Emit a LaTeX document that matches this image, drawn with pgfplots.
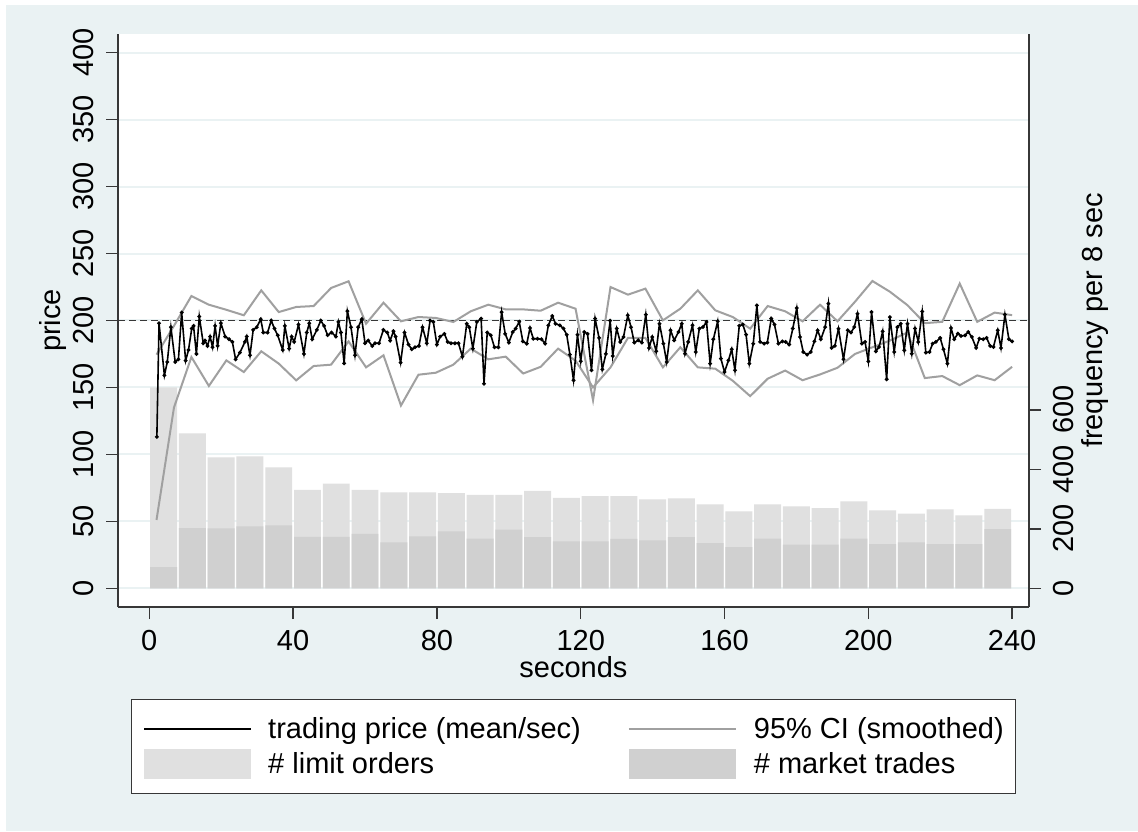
\documentclass[border=0pt]{standalone}
\usepackage{fontspec}
\setmainfont{Liberation Sans}
\usepackage{pgfplots}
\pgfplotsset{compat=1.18}
\definecolor{bgblue}{RGB}{234,242,243}
\definecolor{gridc}{RGB}{234,242,243}
\definecolor{limitc}{RGB}{224,224,224}
\definecolor{marketc}{RGB}{208,208,208}
\definecolor{cic}{RGB}{160,160,160}
\definecolor{axc}{RGB}{55,55,55}
\newcommand{\bigf}{\fontsize{29}{34}\selectfont}
\pgfplotsset{
  base/.style={
    scale only axis, width=911pt, height=573pt,
    at={(118pt,224pt)}, anchor=south west,
    xmin=-8.71, xmax=244.70,
    /pgf/number format/assume math mode=true,
    tick label style={font=\bigf},
    label style={font=\bigf},
    tick align=outside, major tick length=12pt,
    tick style={axc, line width=1.5pt},
    axis line style={axc, line width=1.5pt},
  }
}
\begin{document}
\begin{tikzpicture}
\fill[white] (0,0) rectangle (1138pt,831pt);
\fill[bgblue] (6pt,0) rectangle (1138pt,826pt);
\path[use as bounding box] (0,0) rectangle (1138pt,831pt);

% axis 0: frame, grid, left axis, x axis
\begin{axis}[base,
  ymin=-14, ymax=414,
  axis x line*=bottom, axis y line*=left,
  axis background/.style={fill=white},
  ytick={0,50,...,400}, xtick={0,40,...,240},
  ymajorgrids, major grid style={gridc, line width=2pt},
  yticklabel style={xshift=-12pt, rotate=90, anchor=south, inner sep=0pt},
  xticklabel style={yshift=-11pt, anchor=north, inner sep=0pt},
  xlabel={seconds}, ylabel={price},
  xlabel style={at={(axis description cs:0.5,-0.1047)}, anchor=center},
  ylabel style={at={(axis description cs:-0.0714,0.5)}, anchor=center},
]
\addplot[draw=none, forget plot] coordinates {(0,0)};
\end{axis}

% axis 1: bars, right axis
\begin{axis}[base,
  ymin=-63, ymax=1863,
  axis x line=none, axis y line*=right,
  ytick={0,200,400,600},
  yticklabel style={xshift=12pt, rotate=90, anchor=north, inner sep=0pt},
  ylabel={frequency per 8 sec},
  ylabel style={at={(axis description cs:1.0725,0.5)}, anchor=center},
  bar width=7.5,
]
\addplot[ybar, bar shift=0pt, fill=limitc, draw=none] table {
x y
4 675
12 521
20 440
28 443
36 406
44 331
52 352
60 331
68 322
76 322
84 320
92 314
100 314
108 327
116 304
124 310
132 310
140 299
148 302
156 282
164 258
172 282
180 275
188 269
196 292
204 262
212 251
220 265
228 245
236 267
};
\addplot[ybar, bar shift=0pt, fill=marketc, draw=none] table {
x y
4 71
12 202
20 201
28 208
36 211
44 173
52 173
60 183
68 154
76 174
84 191
92 167
100 197
108 172
116 158
124 158
132 166
140 161
148 172
156 152
164 138
172 167
180 147
188 147
196 167
204 148
212 154
220 148
228 148
236 199
};
\end{axis}

% axis 2: lines and legend
\begin{axis}[base,
  ymin=-14, ymax=414,
  axis lines=none,
  legend columns=2,
  legend cell align=left,
  legend style={at={(0.5,-0.1606)}, anchor=north, draw=axc, line width=1pt,
    fill=white, inner xsep=12pt, inner ysep=12pt, font=\bigf,
    column sep=0pt, row sep=0pt, nodes={inner sep=0pt}},
]
\addlegendimage{legend image code/.code={
  \path[draw=none, fill=none] (0pt,-17.5pt) rectangle (124pt,17.5pt);
  \draw[black, line width=2pt] (0pt,0pt) -- (107pt,0pt);}}
\addlegendentry{trading price (mean/sec)}
\addlegendimage{legend image code/.code={
  \path[draw=none, fill=none] (0pt,-17.5pt) rectangle (173pt,17.5pt);
  \draw[cic, line width=2pt] (48pt,0pt) -- (155pt,0pt);}}
\addlegendentry{95\% CI (smoothed)}
\addlegendimage{legend image code/.code={
  \path[draw=none, fill=none] (0pt,-17.5pt) rectangle (124pt,17.5pt);
  \path[draw=none, fill=limitc] (0pt,-15pt) rectangle (107pt,15pt);}}
\addlegendentry{\# limit orders}
\addlegendimage{legend image code/.code={
  \path[draw=none, fill=none] (0pt,-17.5pt) rectangle (173pt,17.5pt);
  \path[draw=none, fill=marketc] (48pt,-15pt) rectangle (155pt,15pt);}}
\addlegendentry{\# market trades}

\addplot[forget plot, axc, line width=1.2pt, dash pattern=on 7pt off 4pt] coordinates {(-8.71,200) (244.70,200)};

\addplot[forget plot, cic, line width=2pt] table {
x y
2.00 174.5
6.86 196
11.71 218.3
16.57 211.8
21.43 208
26.29 203.9
31.14 222.5
36.00 206.3
40.86 210.1
45.71 210.8
50.57 224.3
55.43 229.3
60.29 197.6
65.14 213.3
70.00 199.4
74.86 202.6
79.71 201.9
84.57 198.9
89.43 206.9
94.29 211.8
99.14 208.3
104.00 208.3
108.86 207.3
113.71 213.3
118.57 208.8
123.43 140.4
128.29 225
133.14 219.3
138.00 223.8
142.86 200.1
147.71 208.8
152.57 222.5
157.43 207.6
162.29 202.6
167.14 193.9
172.00 210.8
176.86 206.9
181.71 199.4
186.57 211.8
191.43 199.4
196.29 214
201.14 229.5
206.00 221.5
210.86 211.5
215.71 198
220.57 199
225.43 227.6
230.29 199
235.14 205.9
240.00 204
};
\addplot[forget plot, cic, line width=2pt] table {
x y
2.00 51
6.86 135
11.71 172.7
16.57 151.1
21.43 170.2
26.29 161.5
31.14 177
36.00 167.8
40.86 155.3
45.71 166
50.57 167
55.43 184.4
60.29 165
65.14 174
70.00 136.5
74.86 159.5
79.71 161
84.57 167
89.43 179
94.29 171
99.14 173
104.00 160.4
108.86 165.4
113.71 179
118.57 170
123.43 150
128.29 165
133.14 187
138.00 187
142.86 165
147.71 180
152.57 165
157.43 164
162.29 155
167.14 143.5
172.00 156.5
176.86 162.6
181.71 155.4
186.57 159.7
191.43 164.7
196.29 175
201.14 180
206.00 185
210.86 191
215.71 157
220.57 158.5
225.43 151.7
230.29 159
235.14 155.4
240.00 165.4
};

\addplot[forget plot, black, line width=1.6pt, mark=*, mark size=1pt] table {
x y
2.1 113
2.7 198
4.2 159
5.0 169
6.0 195
7.2 169
8.1 171
9.0 206
10.1 170
10.9 178
11.8 194
12.3 196
13.1 175
13.9 203
15.0 183
15.5 185
16.2 181
16.9 188
17.6 180
18.3 196
19.0 181
19.9 198
21.1 188
22.2 186
23.1 184
24.0 171
25.2 176
26.6 184
27.1 188
28.0 174
28.9 193
29.9 195
31.0 201
31.7 191
32.9 191
33.9 200
34.8 194
35.7 189
37.1 178
37.7 196
38.9 179
39.6 188
40.3 184
41.5 197
43.0 175
43.8 191
44.5 198
45.3 186
46.6 193
47.7 200
48.6 196
49.6 189
50.7 191
51.9 188
52.6 199
53.3 191
54.2 168
55.1 207
56.1 195
57.2 174
58.1 195
59.1 201
60.0 183
60.9 185
62.0 181
62.8 183
63.9 183
65.1 193
66.2 191
67.0 185
67.9 192
68.5 188
69.9 168.5
71.0 191
72.1 182
73.0 178.5
73.9 180
75.0 181
76.0 195
77.2 183
78.1 200
79.0 199
80.0 182
80.9 188
82.1 190
83.0 184
83.9 183
85.0 183
86.0 183
87.1 173
88.3 197.6
89.0 195
90.0 179
91.1 199
92.3 201.4
93.1 152.8
94.0 191
95.0 189
96.0 180
97.1 180
98.0 206.3
99.0 190
100.0 183.5
101.1 191.4
101.9 194
102.9 199
103.9 184.4
105.0 182.7
105.9 194.4
106.8 186.4
108.0 186.4
109.1 186
110.1 182.7
111.0 196.4
112.1 203.4
113.0 197.6
114.2 196.4
115.2 194
116.1 189.4
117.0 174.5
118.0 155.3
119.1 189.4
120.0 169.5
121.0 191.4
121.9 190
123.0 162.8
124.0 201.4
125.1 187
126.0 163.5
127.0 175
128.2 199.9
128.9 173.5
130.0 194
131.0 184
131.9 187.7
133.1 203.9
134.0 195
134.9 183.5
136.0 185.2
137.0 183.5
138.1 204.4
139.0 179.5
139.9 187.7
141.0 177
141.9 197.6
143.0 182.7
143.9 169
145.0 192.7
146.0 185.2
147.2 191.4
148.1 197.6
149.0 175.2
149.9 184
151.1 196.4
152.0 176.5
153.0 194
154.0 195.1
155.0 198.9
156.0 167.8
156.9 186
158.1 199.4
159.0 171.5
160.0 161.5
161.1 170.2
162.0 178.5
162.9 162.8
164.1 196
165.1 197
166.0 189.4
166.9 167.8
168.0 182.7
169.0 211.3
169.9 184
171.0 182.7
171.9 183.5
173.0 201.4
173.9 197
175.0 182.7
176.1 184.4
177.0 184
178.0 182
179.0 194
180.1 209.3
181.0 187.7
181.9 176.5
183.0 174.5
184.0 176.5
185.0 184.4
185.9 192.7
186.8 186
188.0 195.1
188.9 212.6
189.8 179.5
190.7 181
191.7 193.9
193.1 171
194.3 192.7
195.2 191
196.1 195.1
197.0 205.1
198.2 182.7
199.1 184
200.0 169.5
200.9 206.3
202.1 177
203.0 180.2
204.0 191.9
205.1 156.1
206.0 202.6
207.2 176.5
208.1 195.1
209.0 197.6
210.0 177.7
210.9 197.6
212.1 175.2
213.0 194
213.9 184
215.0 206.8
216.0 176
217.0 176.5
217.9 182.7
218.8 184
220.0 187
220.9 178.5
222.0 167.8
223.0 194.4
223.9 186
224.9 190.2
225.8 188.4
226.9 188.9
227.8 191.4
228.8 187.7
230.0 179.5
230.9 186.4
232.0 186
232.9 187
233.9 181
234.8 180.2
236.0 192.7
236.9 179.5
238.0 204.4
239.1 186
240.0 184.4
};
\end{axis}
\end{tikzpicture}
\end{document}
